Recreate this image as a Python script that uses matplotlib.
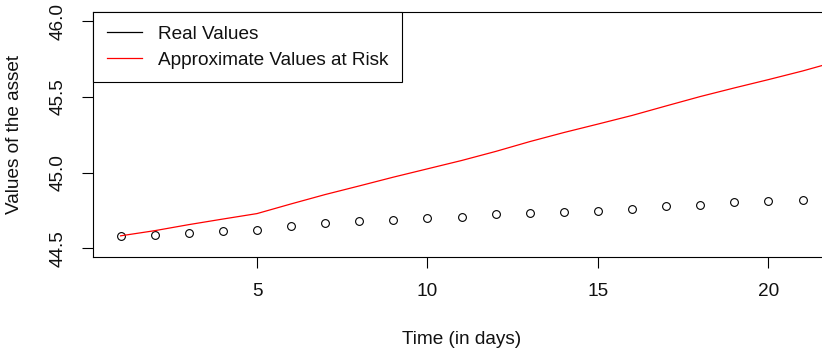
import matplotlib
matplotlib.use("Agg")
import matplotlib.pyplot as plt
from matplotlib.lines import Line2D

plt.rcParams['font.family'] = ['Liberation Sans', 'DejaVu Sans']

# Observed asset values per day
days = list(range(1, 22))
real_values = [44.578, 44.585, 44.602, 44.611, 44.618, 44.649, 44.666, 44.682,
               44.689, 44.697, 44.706, 44.724, 44.731, 44.739, 44.746, 44.762,
               44.777, 44.788, 44.803, 44.810, 44.819]

# Approximate values at risk (line)
var_days = list(range(1, 23))
var_values = [44.582, 44.616, 44.656, 44.693, 44.729, 44.793, 44.855, 44.912,
              44.970, 45.025, 45.080, 45.140, 45.205, 45.265, 45.321, 45.378,
              45.441, 45.503, 45.560, 45.615, 45.672, 45.735]

x_ticks = [5, 10, 15, 20]
y_ticks = [44.5, 45.0, 45.5, 46.0]
y_tick_labels = ["44.5", "45.0", "45.5", "46.0"]

W, H = 822, 355
fig = plt.figure(figsize=(W / 100, H / 100), dpi=100)
left_px, top_px, bottom_px = 93.3, 12.3, 257.3
xmin, xmax = 0.2, 21.8
px_per_unit = 34.1
right_px = left_px + (xmax - xmin) * px_per_unit
ax = fig.add_axes([left_px / W, (H - bottom_px) / H,
                   (right_px - left_px) / W, (bottom_px - top_px) / H])

fs = 13.7
ax.plot(days, real_values, linestyle='none', marker='o', markersize=5.6,
        markerfacecolor='none', markeredgecolor='black', markeredgewidth=0.8)
ax.plot(var_days, var_values, color='red', linewidth=0.9)

ax.set_xlim(xmin, xmax)
ax.set_ylim(44.44, 46.06)

ax.set_xticks(x_ticks)
ax.set_xticklabels([str(t) for t in x_ticks], fontsize=fs)
ax.set_yticks(y_ticks)
ax.set_yticklabels(y_tick_labels, fontsize=fs, rotation=90, va='center')
ax.tick_params(axis='both', direction='out', length=8, width=0.8,
               color='black', labelcolor='#111111')
ax.tick_params(axis='x', pad=10.5)
ax.tick_params(axis='y', pad=11.5)

for s in ax.spines.values():
    s.set_linewidth(0.8)
    s.set_color('black')

ax.set_xlabel("Time (in days)", fontsize=fs, color='#111111')
ax.xaxis.set_label_coords(0.5, -(340 - bottom_px) / (bottom_px - top_px))
ax.xaxis.label.set_va('center')
ax.set_ylabel("Values of the asset", fontsize=fs, color='#111111')
ax.yaxis.set_label_coords(-(left_px - 14.5) / (right_px - left_px), 0.5)
ax.yaxis.label.set_va('center')

handles = [Line2D([], [], color='black', linewidth=0.9),
           Line2D([], [], color='red', linewidth=0.9)]
leg = ax.legend(handles, ["Real Values", "Approximate Values at Risk"],
                loc='upper left', bbox_to_anchor=(0, 1), borderaxespad=0,
                fontsize=fs, frameon=True, fancybox=False, framealpha=1,
                edgecolor='black', borderpad=0.7, handlelength=1.85,
                handletextpad=0.85, labelspacing=0.45)
leg.get_frame().set_linewidth(0.8)
for t in leg.get_texts():
    t.set_color('#111111')

fig.savefig("out.png", dpi=100)
